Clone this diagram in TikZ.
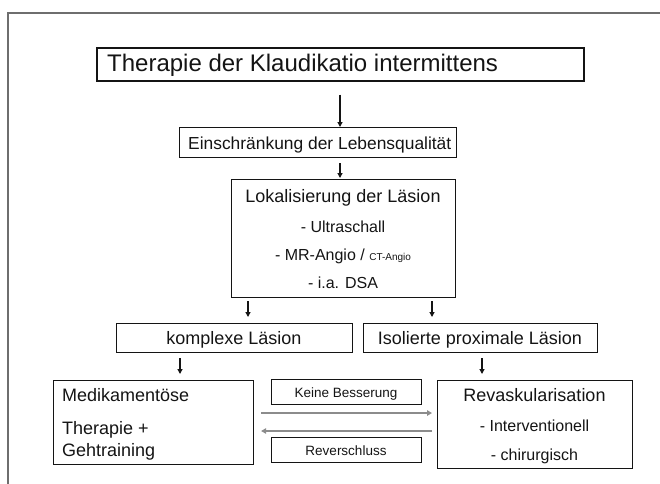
\documentclass[tikz,border=0pt]{standalone}
\usepackage{fontspec}
\setmainfont{Liberation Sans}
\usetikzlibrary{arrows.meta}
\definecolor{framegray}{RGB}{110,110,110}
\definecolor{arrgray}{RGB}{140,140,140}
\definecolor{ink}{RGB}{20,20,20}
\newcommand{\fs}[1]{\fontsize{#1}{#1}\selectfont}
\begin{document}
\begin{tikzpicture}[x=1pt,y=-1pt,
  box/.style={draw=ink, line width=1.1pt, anchor=north west, inner sep=0pt},
  txt/.style={inner sep=0pt, text=ink},
  arr/.style={draw=ink, line width=1.2pt, -{Triangle[length=5pt,width=5pt]}},
  garr/.style={draw=arrgray, line width=2pt, -{Triangle[length=5pt,width=5.5pt]}}]
\useasboundingbox (0,0) rectangle (660,483);
% outer frame
\draw[framegray, line width=1.8pt] (8,495) -- (8,13) -- (672,13);
% helper coordinates
\coordinate (xA) at (340,0);
\coordinate (xL) at (248,0);
\coordinate (xR) at (432,0);
\coordinate (xK) at (180,0);
\coordinate (xI) at (482,0);
\coordinate (yR) at (0,413);
\coordinate (yL) at (0,431);
% boxes
\node[box, line width=1.6pt, minimum width=487pt, minimum height=33pt] (title) at (96,47) {};
\node[txt, anchor=base west, font=\fs{24}] (title-t) at (107,71) {Therapie der Klaudikatio intermittens};

\node[box, minimum width=277pt, minimum height=30pt] (ein) at (179,127) {};
\node[txt, anchor=base west, font=\fs{17.4}] (ein-t) at (188,149.5) {Einschränkung der Lebensqualität};

\node[box, minimum width=224pt, minimum height=118pt] (lok) at (231,179) {};
\node[txt, anchor=base, font=\fs{18}] (lok-1) at (343,202) {Lokalisierung der Läsion};
\node[txt, anchor=base, font=\fs{16}] (lok-2) at (343,232) {- Ultraschall};
\node[txt, anchor=base, font=\fs{16}] (lok-3) at (343,260) {- MR-Angio / {\fs{10}CT-Angio}};
\node[txt, anchor=base, font=\fs{16}] (lok-4) at (343,288) {- i.a. DSA};

\node[box, minimum width=236pt, minimum height=29pt] (kom) at (116,323) {};
\node[txt, anchor=base, font=\fs{18}] (kom-t) at (234,344.3) {komplexe Läsion};

\node[box, minimum width=234pt, minimum height=29pt] (iso) at (363,323) {};
\node[txt, anchor=base, font=\fs{18}] (iso-t) at (480,344.3) {Isolierte proximale Läsion};

\node[box, minimum width=200pt, minimum height=84pt] (med) at (53,380) {};
\node[txt, anchor=base west, font=\fs{18}] (med-1) at (62,401.7) {Medikamentöse};
\node[txt, anchor=base west, font=\fs{18}] (med-2) at (62,434.3) {Therapie +};
\node[txt, anchor=base west, font=\fs{18}] (med-3) at (62,456.7) {Gehtraining};

\node[box, minimum width=195pt, minimum height=88pt] (rev) at (437,380) {};
\node[txt, anchor=base, font=\fs{18}] (rev-1) at (534.5,401.7) {Revaskularisation};
\node[txt, anchor=base, font=\fs{16}] (rev-2) at (534.5,431.7) {- Interventionell};
\node[txt, anchor=base, font=\fs{16}] (rev-3) at (534.5,460) {- chirurgisch};

\node[box, line width=0.9pt, minimum width=150pt, minimum height=25pt] (kb) at (271,379) {};
\node[txt, anchor=base, font=\fs{13.5}] (kb-t) at (346,397.3) {Keine Besserung};

\node[box, line width=0.9pt, minimum width=150pt, minimum height=25pt] (rv) at (271,437) {};
\node[txt, anchor=base, font=\fs{13.5}] (rv-t) at (346,455) {Reverschluss};

% connectors
\draw[arr, shorten <=13pt] (title.south -| xA) -- (ein.north -| xA);
\draw[arr, shorten <=5pt, shorten >=1pt] (ein.south -| xA) -- (lok.north -| xA);
\draw[arr, shorten <=3pt, shorten >=6pt] (lok.south -| xL) -- (kom.north -| xL);
\draw[arr, shorten <=3pt, shorten >=6pt] (lok.south -| xR) -- (iso.north -| xR);
\draw[arr, shorten <=5pt, shorten >=6pt] (kom.south -| xK) -- (med.north -| xK);
\draw[arr, shorten <=5pt, shorten >=6pt] (iso.south -| xI) -- (rev.north -| xI);
\draw[garr, shorten <=7pt, shorten >=5pt] (med.east |- yR) -- (rev.west |- yR);
\draw[garr, shorten <=5pt, shorten >=7pt] (rev.west |- yL) -- (med.east |- yL);
\end{tikzpicture}
\end{document}
